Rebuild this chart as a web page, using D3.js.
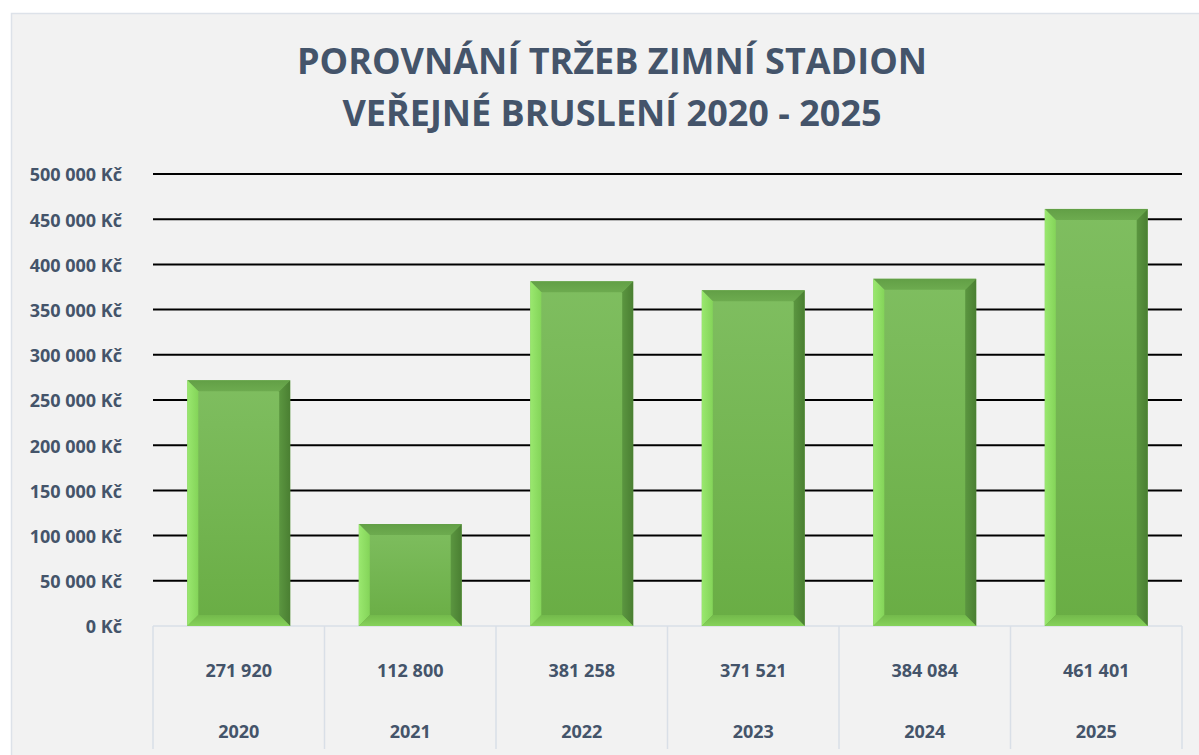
<!DOCTYPE html>
<html>
<head>
<meta charset="utf-8">
<script src="https://cdn.jsdelivr.net/npm/d3@7"></script>
<style>
  body { margin: 0; background: #ffffff; }
  text { font-family: "Open Sans", "Noto Sans", sans-serif; font-weight: bold; fill: #44546a; }
</style>
</head>
<body>
<div id="chart"></div>
<script>
// data
const years = ["2020", "2021", "2022", "2023", "2024", "2025"];
const revenue = [271920, 112800, 381258, 371521, 384084, 461401];
const valueLabels = ["271 920", "112 800", "381 258", "371 521", "384 084", "461 401"];
const yTicks = [0, 50000, 100000, 150000, 200000, 250000, 300000, 350000, 400000, 450000, 500000];
const titleLines = ["POROVNÁNÍ TRŽEB ZIMNÍ STADION", "VEŘEJNÉ BRUSLENÍ 2020 - 2025"];

const width = 1199, height = 755;
const plotLeft = 153, plotRight = 1182, plotTop = 174, plotBottom = 626;
const tableBottom = 749;
const bevel = 11;

const svg = d3.select("#chart").append("svg")
  .attr("width", width)
  .attr("height", height);

// chart area
svg.append("rect")
  .attr("x", 11.5).attr("y", 13.5)
  .attr("width", 1210).attr("height", 770)
  .attr("fill", "#f2f2f2")
  .attr("stroke", "#dde2e9")
  .attr("stroke-width", 1.5);

// title
svg.append("g").selectAll("text")
  .data(titleLines)
  .enter().append("text")
  .attr("x", 612)
  .attr("y", (d, i) => 74 + i * 52)
  .attr("text-anchor", "middle")
  .attr("font-size", 36)
  .text(d => d);

// scales
const x = d3.scaleBand()
  .domain(years)
  .range([plotLeft, plotRight])
  .paddingInner(0.4)
  .paddingOuter(0.2);

const y = d3.scaleLinear()
  .domain([0, 500000])
  .range([plotBottom, plotTop]);

const fmt = v => d3.format(",")(v).replace(/,/g, " ") + " Kč";

// y axis labels + gridlines
const yAxis = d3.axisLeft(y)
  .tickValues(yTicks)
  .tickSize(0)
  .tickPadding(31)
  .tickFormat(fmt);

const yg = svg.append("g")
  .attr("transform", "translate(" + plotLeft + ",0)")
  .call(yAxis);
yg.select(".domain").remove();
yg.attr("font-family", null).attr("font-size", null);
yg.selectAll("text")
  .attr("font-size", 18)
  .attr("dy", "0.38em")
  .attr("fill", null);

svg.append("g").selectAll("line")
  .data(yTicks.filter(d => d > 0))
  .enter().append("line")
  .attr("x1", plotLeft).attr("x2", plotRight)
  .attr("y1", d => y(d)).attr("y2", d => y(d))
  .attr("stroke", "#000")
  .attr("stroke-width", 2);

// table under the axis
const table = svg.append("g");
table.append("line")
  .attr("x1", plotLeft).attr("x2", plotRight)
  .attr("y1", plotBottom).attr("y2", plotBottom)
  .attr("stroke", "#d9dfe7").attr("stroke-width", 1.5);
const edges = years.map(d => x(d) - x.step() * x.paddingInner() / 2);
edges.push(plotRight);
edges[0] = plotLeft;
table.selectAll(".vline")
  .data(edges)
  .enter().append("line")
  .attr("class", "vline")
  .attr("x1", d => d).attr("x2", d => d)
  .attr("y1", plotBottom).attr("y2", tableBottom)
  .attr("stroke", "#d9dfe7").attr("stroke-width", 1.5);

table.selectAll(".val")
  .data(years)
  .enter().append("text")
  .attr("class", "val")
  .attr("x", d => x(d) + x.bandwidth() / 2)
  .attr("y", 677)
  .attr("text-anchor", "middle")
  .attr("font-size", 18)
  .text((d, i) => valueLabels[i]);

table.selectAll(".yr")
  .data(years)
  .enter().append("text")
  .attr("class", "yr")
  .attr("x", d => x(d) + x.bandwidth() / 2)
  .attr("y", 738)
  .attr("text-anchor", "middle")
  .attr("font-size", 18)
  .text(d => d);

// gradients for bevelled bars
const defs = svg.append("defs");
function grad(id, x2, y2, stops) {
  const g = defs.append("linearGradient").attr("id", id)
    .attr("x1", 0).attr("y1", 0).attr("x2", x2).attr("y2", y2);
  stops.forEach(s => g.append("stop").attr("offset", s[0]).attr("stop-color", s[1]));
}
grad("gFace", 0, 1, [[0, "#7fbe60"], [1, "#69ad44"]]);
grad("gLeft", 1, 0, [[0, "#9ae86f"], [1, "#84d459"]]);
grad("gTop", 0, 1, [[0, "#629f46"], [1, "#6dab4f"]]);
grad("gRight", 1, 0, [[0, "#5b9640"], [1, "#4a7f32"]]);
grad("gBottom", 0, 1, [[0, "#73b94b"], [1, "#86d25a"]]);

// bars
const bars = svg.append("g").selectAll("g")
  .data(revenue)
  .enter().append("g")
  .attr("transform", (d, i) => "translate(" + x(years[i]) + "," + y(d) + ")");

const bw = x.bandwidth();
bars.append("rect")
  .attr("width", bw)
  .attr("height", d => y(0) - y(d))
  .attr("fill", "url(#gFace)");

bars.append("path")
  .attr("fill", "url(#gTop)")
  .attr("d", "M0,0 L" + bw + ",0 L" + (bw - bevel) + "," + bevel + " L" + bevel + "," + bevel + "Z");

bars.append("path")
  .attr("fill", "url(#gLeft)")
  .attr("d", d => {
    const h = y(0) - y(d);
    return "M0,0 L" + bevel + "," + bevel + " L" + bevel + "," + (h - bevel) + " L0," + h + "Z";
  });

bars.append("path")
  .attr("fill", "url(#gRight)")
  .attr("d", d => {
    const h = y(0) - y(d);
    return "M" + bw + ",0 L" + bw + "," + h + " L" + (bw - bevel) + "," + (h - bevel) + " L" + (bw - bevel) + "," + bevel + "Z";
  });

bars.append("path")
  .attr("fill", "url(#gBottom)")
  .attr("d", d => {
    const h = y(0) - y(d);
    return "M0," + h + " L" + bevel + "," + (h - bevel) + " L" + (bw - bevel) + "," + (h - bevel) + " L" + bw + "," + h + "Z";
  });
</script>
</body>
</html>
